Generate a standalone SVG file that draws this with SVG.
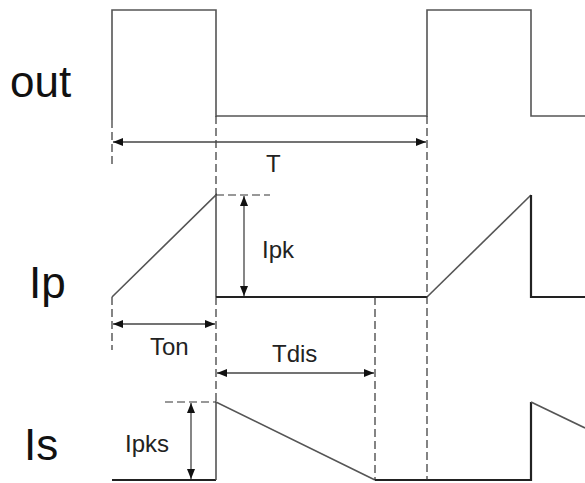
<svg xmlns="http://www.w3.org/2000/svg" width="585" height="483" viewBox="0 0 585 483">
<defs>
<marker id="ah" viewBox="0 0 10 8" refX="10" refY="4" markerWidth="10" markerHeight="8" markerUnits="userSpaceOnUse" orient="auto-start-reverse">
<path d="M0,0 L10,4 L0,8 Z" fill="#111"/>
</marker>
</defs>
<style>
.w{fill:none;stroke:#555;stroke-width:1.6}
.b{fill:none;stroke:#222;stroke-width:2.2}
.d{fill:none;stroke:#333;stroke-width:1.2;stroke-dasharray:8,4}
.a{fill:none;stroke:#444;stroke-width:1.3;marker-start:url(#ah);marker-end:url(#ah)}
.big{font-family:"Liberation Sans",Arial,sans-serif;font-size:44px;fill:#111}
.sm{font-family:"Liberation Sans",Arial,sans-serif;font-size:24px;fill:#222}
</style>
<rect width="585" height="483" fill="#fff"/>
<g id="out">
<path class="w" d="M112,120 V10 H216 V116 H427 V10 H531 V116 H585"/>
<text class="big" x="10" y="97">out</text>
</g>
<g id="ip">
<path class="w" d="M112,297 L216,195 V297"/>
<path class="b" d="M216,297 H427"/>
<path class="w" d="M427,297 L531,195"/>
<path class="b" d="M531,195 V297 H585"/>
<text class="big" x="29" y="298">Ip</text>
</g>
<g id="is">
<path class="b" d="M112,480 H216"/>
<path class="w" d="M216,480 V402 L375,480"/>
<path class="b" d="M375,480 H531 V402"/>
<path class="w" d="M531,402 L585,428"/>
<text class="big" x="24" y="460">Is</text>
</g>
<g id="connectors">
<path class="d" d="M112,120 V168"/>
<path class="d" d="M216,116 V195"/>
<path class="d" d="M216,297 V402"/>
<path class="d" d="M427,116 V480"/>
<path class="d" d="M375,297 V480"/>
<path class="d" d="M112,297 V350"/>
<path class="d" d="M216,195 H270"/>
<path class="d" d="M165,402 H216"/>
<path class="a" d="M113,142 H426"/>
<path class="a" d="M244,196 V296"/>
<path class="a" d="M113,324 H215"/>
<path class="a" d="M217,373 H374"/>
<path class="a" d="M191,403 V479"/>
</g>
<g id="labels">
<text class="sm" x="266" y="172">T</text>
<text class="sm" x="262" y="258">Ipk</text>
<text class="sm" x="150" y="355">Ton</text>
<text class="sm" x="272" y="362">Tdis</text>
<text class="sm" x="125" y="452">Ipks</text>
</g>
</svg>
